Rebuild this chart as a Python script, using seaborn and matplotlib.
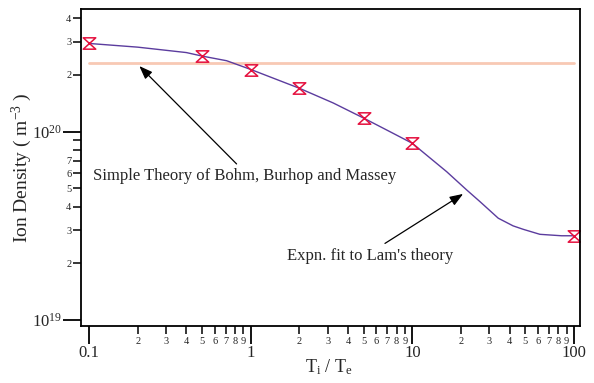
import numpy as np
import pandas as pd
import matplotlib
matplotlib.use("Agg")
import matplotlib.pyplot as plt
import matplotlib.ticker as mticker
from matplotlib.path import Path
import seaborn as sns

# ---- data ----
meas_x = [0.1, 0.5, 1, 2, 5, 10, 100]
meas_y = [2.94e20, 2.52e20, 2.13e20, 1.70e20, 1.18e20, 8.7e19, 2.80e19]

fit_x = [0.1, 0.2, 0.4, 0.5, 0.71, 1, 2, 3.24, 5, 7.6, 10, 11.6, 16.3,
         21.7, 26.2, 34, 42, 48.5, 61.5, 83.8, 100]
fit_y = [2.94e20, 2.81e20, 2.63e20, 2.52e20, 2.38e20, 2.14e20, 1.70e20,
         1.42e20, 1.18e20, 9.8e19, 8.67e19, 7.8e19, 6.13e19, 4.9e19,
         4.25e19, 3.47e19, 3.16e19, 3.03e19, 2.85e19, 2.80e19, 2.80e19]

simple_x = [0.1, 100]
simple_y = [2.32e20, 2.32e20]

# ---- style ----
sns.set_style("ticks")
plt.rcParams["font.family"] = ["Liberation Serif", "DejaVu Serif"]
plt.rcParams["mathtext.fontset"] = "custom"
plt.rcParams["mathtext.rm"] = "Liberation Serif"
plt.rcParams["mathtext.it"] = "Liberation Serif:italic"

fig = plt.figure(figsize=(5.94, 3.83), dpi=100)
ax = fig.add_axes([81 / 594, 1 - 326 / 383, 499 / 594, 317 / 383])

# hourglass marker
hourglass = Path([(-1.1, 1), (1.1, 1), (-1.1, -1), (1.1, -1), (-1.1, 1)],
                 [Path.MOVETO, Path.LINETO, Path.LINETO, Path.LINETO, Path.CLOSEPOLY])

sns.lineplot(x=simple_x, y=simple_y, ax=ax, color="#f8c9b4", linewidth=2, estimator=None)
sns.lineplot(x=fit_x, y=fit_y, ax=ax, color="#5b3c9e", linewidth=1, estimator=None, sort=False)
ax.plot(meas_x, meas_y, linestyle="none", marker=hourglass, markersize=9,
        markerfacecolor="none", markeredgecolor="#e5103e", markeredgewidth=1.1)

ax.set_xscale("log")
ax.set_yscale("log")
ax.set_xlim(0.0892, 108.9)
ax.set_ylim(9.29e18, 4.48e20)

# ticks (only inside the data range, as in the original)
x_minor = [d * 10.0 ** e for e in (-1, 0, 1) for d in range(2, 10)]
y_minor = [d * 10.0 ** 19 for d in range(2, 10)] + [d * 10.0 ** 20 for d in range(2, 5)]
ax.xaxis.set_major_locator(mticker.FixedLocator([0.1, 1, 10, 100]))
ax.xaxis.set_minor_locator(mticker.FixedLocator(x_minor))
ax.yaxis.set_major_locator(mticker.FixedLocator([1e19, 1e20]))
ax.yaxis.set_minor_locator(mticker.FixedLocator(y_minor))

ax.xaxis.set_major_formatter(mticker.FuncFormatter(lambda v, p: "%g" % v))
ax.yaxis.set_major_formatter(mticker.LogFormatterSciNotation())


def minor_label(allowed):
    def f(v, p):
        d = int(round(v / 10 ** np.floor(np.log10(v) + 1e-9)))
        return str(d) if d in allowed else ""
    return f


ax.xaxis.set_minor_formatter(mticker.FuncFormatter(minor_label(range(2, 10))))
ax.yaxis.set_minor_formatter(mticker.FuncFormatter(minor_label(range(2, 8))))

ax.tick_params(axis="both", which="major", direction="out", length=13, width=1.3,
               labelsize=12, color="black")
ax.tick_params(axis="both", which="minor", direction="out", length=6, width=1.1,
               labelsize=7.5, color="black")
ax.tick_params(axis="x", which="major", pad=1)
ax.tick_params(axis="x", which="minor", pad=2)
ax.tick_params(axis="y", which="both", pad=1)

for s in ax.spines.values():
    s.set_linewidth(1.3)
    s.set_color("black")

ax.set_ylabel("Ion Density ( m$^{-3}$ )", fontsize=14)
ax.yaxis.set_label_coords(-0.095, 0.5)
ax.set_xlabel("T$_\\mathdefault{i}$ / T$_\\mathdefault{e}$", fontsize=13)
ax.xaxis.set_label_coords(0.497, -0.1)

# annotations
arrow = dict(arrowstyle="-|>,head_length=0.8,head_width=0.3", color="black",
             linewidth=0.9, shrinkA=0, shrinkB=0)
ax.annotate("", xy=(0.2047, 2.23e20), xytext=(0.818, 6.74e19), arrowprops=arrow)
ax.annotate("", xy=(20.6, 4.67e19), xytext=(6.77, 2.55e19), arrowprops=arrow)
ax.text(0.106, 5.54e19, "Simple Theory of Bohm, Burhop and Massey",
        fontsize=12, va="baseline", ha="left")
ax.text(1.676, 2.08e19, "Expn. fit to Lam's theory",
        fontsize=12, va="baseline", ha="left")

fig.savefig("out.png", dpi=100)
